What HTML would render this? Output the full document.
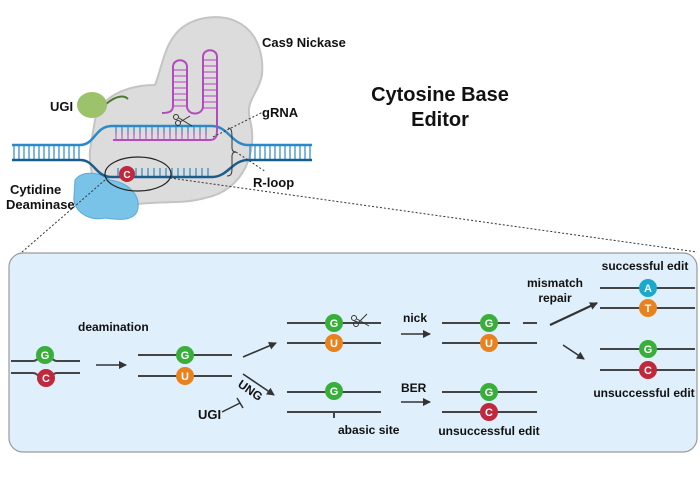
<!DOCTYPE html>
<html><head><meta charset="utf-8"><style>
html,body{margin:0;padding:0;background:#fff;}
svg{display:block;font-family:"Liberation Sans",sans-serif;font-weight:bold;}
</style></head><body>
<svg width="700" height="490" viewBox="0 0 700 490" xmlns="http://www.w3.org/2000/svg">
<defs>
<marker id="ah" markerWidth="8" markerHeight="8" refX="7" refY="4" orient="auto" markerUnits="userSpaceOnUse"><path d="M0,0 L8,4 L0,8 z" fill="#333"/></marker>
</defs>
<!-- Cas9 blob -->
<path d="M95,120 C100,95 130,85 155,85 C165,60 165,25 205,18 C245,12 265,40 262,75 C258,95 245,100 250,120 C258,150 245,190 205,198 C180,205 160,200 130,205 C100,210 88,175 90,150 Z" fill="#dcdcdc" stroke="#c4c4c4" stroke-width="2"/>
<!-- UGI green -->
<path d="M106,104 C118,94 125,96 128,99" stroke="#4d7a2a" stroke-width="2" fill="none"/>
<ellipse cx="92" cy="105" rx="15" ry="13" fill="#9cc26b"/>
<!-- deaminase -->
<path d="M75,180 C82,170 100,172 110,180 C125,182 140,192 138,208 C136,222 118,220 105,218 C88,222 72,210 74,196 Z" fill="#79c2e8" stroke="#5aaad6" stroke-width="1"/>
<!-- DNA left/right helices -->
<g stroke="#2a8ac9" stroke-width="1.2">
<path d="M14,145V160M19,145V160M24,145V160M29,145V160M34,145V160M39,145V160M44,145V160M49,145V160M54,145V160M59,145V160M64,145V160M69,145V160M74,145V160M79,145V160"/>
<path d="M250,145V160M255,145V160M260,145V160M265,145V160M270,145V160M275,145V160M280,145V160M285,145V160M290,145V160M295,145V160M300,145V160M305,145V160M310,145V160"/>
<path d="M118,168V177M124,168V177M130,168V177M136,168V177M142,168V177M148,168V177M154,168V177M160,168V177M166,168V177M172,168V177M178,168V177M184,168V177M190,168V177M196,168V177M202,168V177M208,168V177"/>
<path d="M116,126V135M122,126V135M128,126V135M134,126V135M140,126V135M146,126V135M152,126V135M158,126V135M164,126V135M170,126V135M176,126V135M182,126V135M188,126V135M194,126V135M200,126V135M206,126V135" stroke="#2a8ac9"/>
</g>
<g stroke="#c061c6" stroke-width="1.2">
<path d="M116,132V140M122,132V140M128,132V140M134,132V140M140,132V140M146,132V140M152,132V140M158,132V140M164,132V140M170,132V140M176,132V140M182,132V140M188,132V140M194,132V140M200,132V140M206,132V140"/>
<path d="M173,70H187M173,76H187M173,82H187M173,88H187M173,94H187M173,100H187M173,106H187M203,60H217M203,66H217M203,72H217M203,78H217M203,84H217M203,90H217M203,96H217M203,102H217M203,108H217"/>
</g>
<path d="M12,145H80C95,145 95,126 112,126H212C228,126 232,145 248,145H312" stroke="#2a8ac9" stroke-width="2.5" fill="none"/>
<path d="M12,160H80C95,160 95,177 112,177H212C228,177 232,160 248,160H312" stroke="#1a5d8c" stroke-width="2.5" fill="none"/>
<path d="M113,140H210C216,140 217,136 217,130V57C217,48 203,48 203,57V106C203,116 187,116 187,106V67C187,58 173,58 173,67V106C173,112 168,113 162,113" stroke="#b24cbc" stroke-width="2" fill="none"/>
<!-- scissors -->
<g stroke="#333" stroke-width="1" fill="none"><circle cx="176" cy="117" r="2.5"/><circle cx="178" cy="123" r="2.5"/><path d="M179,118L192,126M180,122L190,116"/></g>
<!-- bracket -->
<path d="M228,128C232,128 232,132 232,140V148C232,151 234,152 236,152C234,152 232,153 232,156V168C232,174 231,176 227,176" stroke="#333" stroke-width="1" fill="none"/>
<!-- C and ellipse -->
<ellipse cx="138" cy="174" rx="33" ry="17" fill="none" stroke="#222" stroke-width="1.2"/>
<circle cx="127" cy="174" r="8" fill="#c0283b"/><text x="127" y="178" font-size="10" fill="#fff" text-anchor="middle">C</text>
<!-- dotted lines -->
<g stroke="#333" stroke-width="1" stroke-dasharray="2,2" fill="none">
<path d="M213,137L263,112"/><path d="M236,152L266,172"/>
<path d="M105,180L22,252"/><path d="M170,178L697,252"/>
</g>
<!-- labels top -->
<g font-size="13" fill="#111">
<text x="262" y="47">Cas9 Nickase</text>
<text x="50" y="111">UGI</text>
<text x="262" y="117">gRNA</text>
<text x="253" y="187">R-loop</text>
<text x="10" y="194">Cytidine</text>
<text x="6" y="209">Deaminase</text>
</g>
<text x="440" y="101" font-size="20" text-anchor="middle" fill="#111">Cytosine Base</text>
<text x="440" y="126" font-size="20" text-anchor="middle" fill="#111">Editor</text>
<!-- panel -->
<rect x="9" y="253" width="688" height="199" rx="14" fill="#dff0fc" stroke="#9a9a9a" stroke-width="1.2"/>
<g stroke="#444" stroke-width="2" fill="none">
<path d="M11,361H33C38,361 38,356 45,356C52,356 52,361 57,361H80"/>
<path d="M11,373H33C38,373 38,378 45,378C52,378 52,373 57,373H80"/>
<path d="M138,355H232M138,376H232"/>
<path d="M287,323H381M287,343H381M287,392H381M287,412H381M334,412V418"/>
<path d="M442,323H510M523,323H537M442,343H537M442,392H537M442,412H537"/>
<path d="M600,288H695M600,308H695M600,349H695M600,370H695"/>
</g>
<g stroke="#333" stroke-width="1.6" fill="none" marker-end="url(#ah)">
<path d="M96,365H126"/><path d="M243,357L276,343"/><path d="M243,374L274,395"/>
<path d="M401,334H430"/><path d="M401,402H430"/><path d="M563,345L584,359"/>
</g>
<path d="M550,325L597,303" stroke="#333" stroke-width="2.2" marker-end="url(#ah)"/>
<path d="M222,412L240,403M237,398L243,408" stroke="#333" stroke-width="1.5"/>
<g stroke="#333" stroke-width="1" fill="none"><circle cx="354" cy="318" r="2.5"/><circle cx="356" cy="324" r="2.5"/><path d="M357,319L369,326M358,323L367,314"/></g>
<g font-size="11" fill="#fff" text-anchor="middle">
<circle cx="45" cy="355" r="9" fill="#3aae3a"/><text x="45" y="359">G</text>
<circle cx="46" cy="378" r="9" fill="#c0283b"/><text x="46" y="382">C</text>
<circle cx="185" cy="355" r="9" fill="#3aae3a"/><text x="185" y="359">G</text>
<circle cx="185" cy="376" r="9" fill="#e8821e"/><text x="185" y="380">U</text>
<circle cx="334" cy="323" r="9" fill="#3aae3a"/><text x="334" y="327">G</text>
<circle cx="334" cy="343" r="9" fill="#e8821e"/><text x="334" y="347">U</text>
<circle cx="334" cy="391" r="9" fill="#3aae3a"/><text x="334" y="395">G</text>
<circle cx="489" cy="323" r="9" fill="#3aae3a"/><text x="489" y="327">G</text>
<circle cx="489" cy="343" r="9" fill="#e8821e"/><text x="489" y="347">U</text>
<circle cx="489" cy="392" r="9" fill="#3aae3a"/><text x="489" y="396">G</text>
<circle cx="489" cy="412" r="9" fill="#c0283b"/><text x="489" y="416">C</text>
<circle cx="648" cy="288" r="9" fill="#1aa8cc"/><text x="648" y="292">A</text>
<circle cx="648" cy="308" r="9" fill="#e8821e"/><text x="648" y="312">T</text>
<circle cx="648" cy="349" r="9" fill="#3aae3a"/><text x="648" y="353">G</text>
<circle cx="648" cy="370" r="9" fill="#c0283b"/><text x="648" y="374">C</text>
</g>
<g font-size="12" fill="#111">
<text x="78" y="331">deamination</text>
<text x="198" y="419" font-size="13">UGI</text>
<text x="0" y="0" transform="translate(237,386) rotate(35)">UNG</text>
<text x="403" y="322">nick</text>
<text x="401" y="392">BER</text>
<text x="338" y="434">abasic site</text>
<text x="489" y="435" text-anchor="middle">unsuccessful edit</text>
<text x="555" y="287" text-anchor="middle">mismatch</text>
<text x="555" y="302" text-anchor="middle">repair</text>
<text x="645" y="270" text-anchor="middle">successful edit</text>
<text x="644" y="397" text-anchor="middle">unsuccessful edit</text>
</g>
</svg>
</body></html>
